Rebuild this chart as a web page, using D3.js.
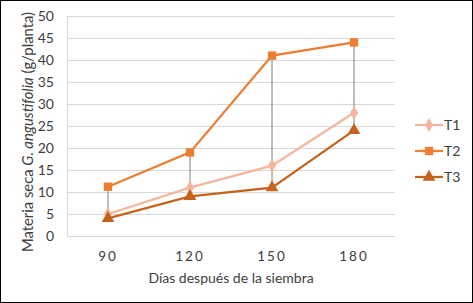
<!DOCTYPE html>
<html>
<head>
<meta charset="UTF-8">
<script src="https://d3js.org/d3.v7.min.js"></script>
<style>
  body { margin: 0; background: #fff; }
  svg text { font-family: Lato, "Open Sans", sans-serif; fill: #404040; }
</style>
</head>
<body>
<svg id="chart" width="473" height="303"></svg>
<script>
// datos
const dias = ["90", "120", "150", "180"];
const t1 = [5, 11, 16, 28];
const t2 = [11.2, 19, 41, 44];
const t3 = [4, 9, 11, 24];
const yTicks = [0, 5, 10, 15, 20, 25, 30, 35, 40, 45, 50];

const series = [
  { name: "T1", values: t1, color: "#F4B69C", marker: "diamond" },
  { name: "T2", values: t2, color: "#ED7D31", marker: "square" },
  { name: "T3", values: t3, color: "#C5631E", marker: "triangle" }
];

const svg = d3.select("#chart");
const W = 473, H = 303;
const m = { left: 67, right: 78, top: 16, bottom: 67 };

svg.append("rect").attr("x", 0.5).attr("y", 0.5)
  .attr("width", W - 1).attr("height", H - 1)
  .attr("fill", "#fff").attr("stroke", "#000");

const x = d3.scaleBand().domain(dias).range([m.left, W - m.right]);
const y = d3.scaleLinear().domain([0, 50]).range([H - m.bottom, m.top]);

// rejilla
svg.append("g").selectAll("line").data(yTicks).enter().append("line")
  .attr("x1", m.left).attr("x2", W - m.right)
  .attr("y1", d => Math.round(y(d)) + 0.5).attr("y2", d => Math.round(y(d)) + 0.5)
  .attr("stroke", "#D9D9D9").attr("stroke-width", 1);
svg.append("line")
  .attr("x1", m.left + 0.5).attr("x2", m.left + 0.5)
  .attr("y1", y(50)).attr("y2", y(0))
  .attr("stroke", "#D9D9D9");

// ejes
const yAxis = svg.append("g").attr("transform", `translate(${m.left - 13},0)`)
  .call(d3.axisLeft(y).tickValues(yTicks).tickSize(0).tickPadding(0));
yAxis.select(".domain").remove();
yAxis.selectAll("text").attr("font-size", 14).attr("fill", "#404040")
  .attr("font-family", "Lato, sans-serif");

const xAxis = svg.append("g").attr("transform", `translate(0,${y(0) + 15})`)
  .call(d3.axisBottom(x).tickSize(0).tickPadding(0));
xAxis.select(".domain").remove();
xAxis.selectAll("text").attr("font-size", 13.5).attr("fill", "#404040")
  .attr("letter-spacing", "2px").attr("font-family", "Lato, sans-serif");

// títulos
svg.append("text").attr("x", x("120") + x.bandwidth())
  .attr("y", 283).attr("text-anchor", "middle").attr("font-size", 14)
  .text("Días después de la siembra");

const yt = svg.append("text")
  .attr("transform", `translate(33,132) rotate(-90)`)
  .attr("text-anchor", "middle").attr("font-size", 14.8);
yt.append("tspan").text("Materia seca ");
yt.append("tspan").attr("font-style", "italic").text("G. angustifolia");
yt.append("tspan").text(" (g/planta)");

// líneas máximo-mínimo
const cx = d => x(d) + x.bandwidth() / 2;
svg.append("g").selectAll("line").data(dias).enter().append("line")
  .attr("x1", cx).attr("x2", cx)
  .attr("y1", (d, i) => y(d3.max(series, s => s.values[i])))
  .attr("y2", (d, i) => y(d3.min(series, s => s.values[i])))
  .attr("stroke", "#7F7F7F").attr("stroke-width", 1);

const shape = { diamond: d3.symbolDiamond, square: d3.symbolSquare, triangle: d3.symbolTriangle };
const size = { diamond: 55, square: 70, triangle: 70 };

const line = d3.line().x((d, i) => cx(dias[i])).y(d => y(d));
series.forEach(s => {
  const g = svg.append("g");
  g.append("path").datum(s.values).attr("d", line)
    .attr("fill", "none").attr("stroke", s.color).attr("stroke-width", 2.25);
  g.selectAll("path.mk").data(s.values).enter().append("path").attr("class", "mk")
    .attr("transform", (d, i) => `translate(${cx(dias[i])},${y(d)})`)
    .attr("d", d3.symbol().type(shape[s.marker]).size(size[s.marker]))
    .attr("fill", s.color);
});

// leyenda
const lg = svg.append("g").selectAll("g").data(series).enter().append("g")
  .attr("transform", (d, i) => `translate(415,${125 + i * 26})`);
lg.append("line").attr("x1", 0).attr("x2", 28)
  .attr("stroke", d => d.color).attr("stroke-width", 2.25);
lg.append("path").attr("transform", "translate(14,0)")
  .attr("d", d => d3.symbol().type(shape[d.marker]).size(size[d.marker])())
  .attr("fill", d => d.color);
lg.append("text").attr("x", 29).attr("y", 5).attr("font-size", 14).text(d => d.name);
</script>
</body>
</html>
